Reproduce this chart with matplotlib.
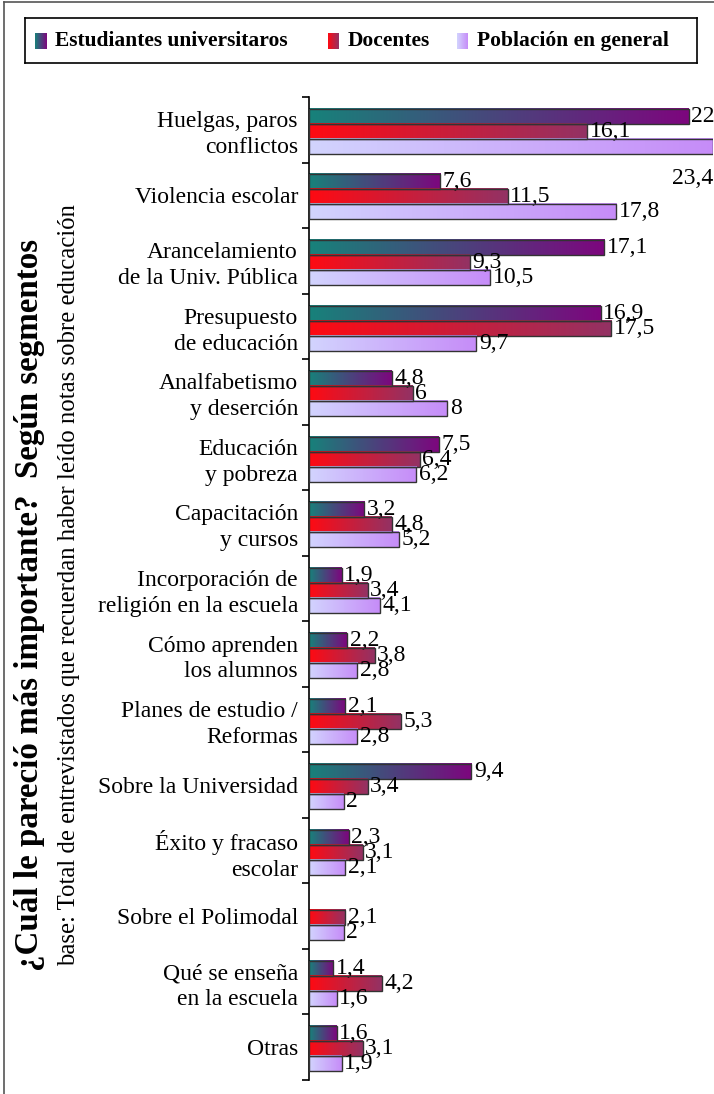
import matplotlib.pyplot as plt
import numpy as np
from matplotlib.colors import LinearSegmentedColormap
from matplotlib.lines import Line2D

plt.rcParams['font.family'] = ['Liberation Serif', 'DejaVu Serif']

categories = ["Huelgas, paros\nconflictos", "Violencia escolar",
              "Arancelamiento\nde la Univ. Pública", "Presupuesto\nde educación",
              "Analfabetismo\ny deserción", "Educación\ny pobreza",
              "Capacitación\ny cursos", "Incorporación de\nreligión en la escuela",
              "Cómo aprenden\nlos alumnos", "Planes de estudio /\nReformas",
              "Sobre la Universidad", "Éxito y fracaso\nescolar",
              "Sobre el Polimodal", "Qué se enseña\nen la escuela", "Otras"]
estudiantes = [22, 7.6, 17.1, 16.9, 4.8, 7.5, 3.2, 1.9, 2.2, 2.1, 9.4, 2.3, None, 1.4, 1.6]
docentes = [16.1, 11.5, 9.3, 17.5, 6, 6.4, 4.8, 3.4, 3.8, 5.3, 3.4, 3.1, 2.1, 4.2, 3.1]
poblacion = [23.4, 17.8, 10.5, 9.7, 8, 6.2, 5.2, 4.1, 2.8, 2.8, 2, 2.1, 2, 1.6, 1.9]
series_names = ["Estudiantes universitaros", "Docentes", "Población en general"]

# gradient start/end colour for each series
grads = [("#17827a", "#7d067e"), ("#ff0a12", "#933264"), ("#d2d4fe", "#c68cf8")]
cmaps = [LinearSegmentedColormap.from_list("g%d" % i, g) for i, g in enumerate(grads)]
ramp = np.linspace(0, 1, 256).reshape(1, -1)

fig = plt.figure(figsize=(7.14, 10.94), dpi=100)
ax = fig.add_axes([0.4328, 0.0128, 0.5658, 0.8985])

n = len(categories)
y = np.arange(n)
h = 0.229
fs = 17

for k, vals in enumerate([estudiantes, docentes, poblacion]):
    v = np.array([np.nan if a is None else a for a in vals], dtype=float)
    bars = ax.barh(y + (k - 1) * h + 0.025, np.nan_to_num(v), height=h,
                   facecolor='none', edgecolor='#333333', linewidth=1.0, zorder=3)
    for i, b in enumerate(bars):
        if np.isnan(v[i]):
            b.set_visible(False)
            continue
        x0, y0, w, hh = b.get_x(), b.get_y(), b.get_width(), b.get_height()
        ax.imshow(ramp, cmap=cmaps[k], extent=[x0, x0 + w, y0 + hh, y0],
                  aspect='auto', interpolation='bilinear', zorder=2)
        lab = ("%g" % v[i]).replace(".", ",")
        if v[i] >= 23:
            # no room on the right: put it under the bar
            ax.text(x0 + w, y0 + hh + 0.38, lab, ha='right', va='center',
                    fontsize=fs, clip_on=False)
        else:
            ax.text(x0 + w + 0.15, y0 + hh / 2, lab, ha='left', va='center',
                    fontsize=fs, clip_on=False)

ax.set_xlim(0, 23.4)
ax.set_ylim(n - 0.5, -0.5)
ax.set_yticks(y)
ax.set_yticklabels(categories, fontsize=fs, linespacing=1.3)
ax.set_yticks(np.arange(n + 1) - 0.5, minor=True)
ax.tick_params(axis='y', which='major', length=0, pad=8)
ax.tick_params(axis='y', which='minor', length=5, width=1.2, direction='out')
ax.set_xticks([])
for s in ['top', 'right', 'bottom']:
    ax.spines[s].set_visible(False)
ax.spines['left'].set_linewidth(1.2)

# titles along the left side
fig.text(0.042, 0.447, "¿Cuál le pareció más importante?  Según segmentos",
         rotation=90, ha='center', va='center', fontsize=23.8, fontweight='bold')
fig.text(0.096, 0.465,
         "base: Total de entrevistados que recuerdan haber leído notas sobre educación",
         rotation=90, ha='center', va='center', fontsize=17.8)

# legend box
lax = fig.add_axes([0.035, 0.9424, 0.941, 0.0411])
lax.set_xticks([])
lax.set_yticks([])
for s in lax.spines.values():
    s.set_linewidth(1.2)
for k, (mx, name) in enumerate(zip([10, 303, 432], series_names)):
    lax.imshow(ramp, cmap=cmaps[k], extent=[mx, mx + 11, 14, 30],
               aspect='auto', interpolation='bilinear')
    lax.text(mx + 20, 22, name, ha='left', va='center', fontsize=15.5,
             fontweight='bold')
lax.set_xlim(0, 714 * 0.941)
lax.set_ylim(0, 45)

# outer frame lines
fig.add_artist(Line2D([0.006, 0.006], [0, 0.998], color='#555555', lw=1.2,
                      transform=fig.transFigure))
fig.add_artist(Line2D([0.006, 1.0], [0.998, 0.998], color='#555555', lw=1.2,
                      transform=fig.transFigure))

fig.savefig("out.png", dpi=100)
